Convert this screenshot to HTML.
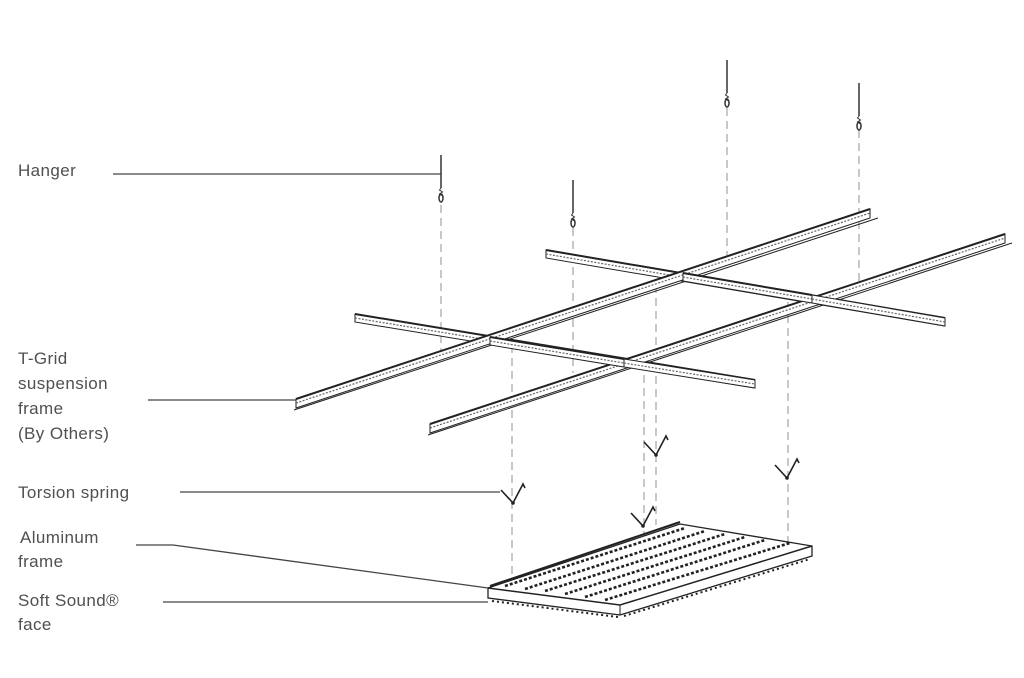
<!DOCTYPE html>
<html><head><meta charset="utf-8"><style>
html,body{margin:0;padding:0;background:#fff;}
svg{display:block}
text{font-family:"Liberation Sans",sans-serif;font-size:17px;fill:#505050;letter-spacing:0.4px}
</style></head><body>
<svg width="1024" height="678" viewBox="0 0 1024 678" xmlns="http://www.w3.org/2000/svg">
<defs>
<g id="hk">
<line x1="0" y1="-45" x2="0" y2="-12" stroke="#333" stroke-width="1.5"/>
<path d="M0,-12 l-1.5,2 l3,2 l-3,2 l3,2" stroke="#333" fill="none" stroke-width="1"/>
<ellipse cx="0" cy="-2" rx="2" ry="4" fill="none" stroke="#333" stroke-width="1.5"/>
</g>
<g id="sp">
<path d="M-12,-13 L0,0 L10,-19 L12,-15" stroke="#222" fill="none" stroke-width="1.6"/>
<circle cx="0" cy="0" r="1.8" fill="#222"/>
</g>
</defs>
<g stroke="#aaa" stroke-width="1.3" stroke-dasharray="8,5" fill="none">
<line x1="441" y1="205" x2="441" y2="355"/>
<line x1="573" y1="228" x2="573" y2="373"/>
<line x1="727" y1="108" x2="727" y2="255"/>
<line x1="859" y1="130" x2="859" y2="290"/>
<line x1="512" y1="345" x2="512" y2="585"/>
<line x1="656" y1="285" x2="656" y2="525"/>
<line x1="644" y1="362" x2="644" y2="608"/>
<line x1="788" y1="302" x2="788" y2="545"/>
</g>
<use href="#hk" x="441" y="200"/>
<use href="#hk" x="573" y="225"/>
<use href="#hk" x="727" y="105"/>
<use href="#hk" x="859" y="128"/>
<g stroke="#222" fill="#fff">
<polygon points="355,314 755,380 755,388 355,322" stroke-width="1"/>
<line x1="355" y1="314" x2="755" y2="380" stroke-width="2"/>
<line x1="355" y1="318" x2="755" y2="384" stroke-width="1.2" stroke="#666" stroke-dasharray="2,1.5"/>
<polygon points="546,250 945,318 945,326 546,258" stroke-width="1"/>
<line x1="546" y1="250" x2="945" y2="318" stroke-width="2"/>
<line x1="546" y1="254" x2="945" y2="322" stroke-width="1.2" stroke="#666" stroke-dasharray="2,1.5"/>
<polygon points="296,399 870,209 870,218 296,408" stroke-width="1"/>
<line x1="296" y1="399" x2="870" y2="209" stroke-width="2"/>
<line x1="296" y1="403" x2="870" y2="213" stroke-width="1.2" stroke="#666" stroke-dasharray="2,1.5"/>
<line x1="294" y1="410" x2="878" y2="218" stroke-width="1"/>
<polygon points="430,424 1005,234 1005,243 430,433" stroke-width="1"/>
<line x1="430" y1="424" x2="1005" y2="234" stroke-width="2"/>
<line x1="430" y1="428" x2="1005" y2="238" stroke-width="1.2" stroke="#666" stroke-dasharray="2,1.5"/>
<line x1="428" y1="435" x2="1012" y2="243" stroke-width="1"/>
<polygon points="490,337 624,359 624,367 490,345" stroke-width="1"/>
<line x1="490" y1="337" x2="624" y2="359" stroke-width="2"/>
<line x1="490" y1="341" x2="624" y2="363" stroke-width="1.2" stroke="#666" stroke-dasharray="2,1.5"/>
<polygon points="683,273 812,295 812,303 683,281" stroke-width="1"/>
<line x1="683" y1="273" x2="812" y2="295" stroke-width="2"/>
<line x1="683" y1="277" x2="812" y2="299" stroke-width="1.2" stroke="#666" stroke-dasharray="2,1.5"/>
<polygon points="624,359 755,380 755,388 624,367" stroke-width="1"/>
<line x1="624" y1="363" x2="755" y2="384" stroke-width="1.2" stroke="#666" stroke-dasharray="2,1.5"/>
<polygon points="812,295 945,318 945,326 812,303" stroke-width="1"/>
<line x1="812" y1="299" x2="945" y2="322" stroke-width="1.2" stroke="#666" stroke-dasharray="2,1.5"/>
</g>
<use href="#sp" x="513" y="503"/>
<use href="#sp" x="656" y="455"/>
<use href="#sp" x="787" y="478"/>
<use href="#sp" x="643" y="526"/>
<g stroke="#222" fill="#fff">
<polygon points="488,588 680,524 812,546 812,556 620,615 488,598" stroke-width="1.3"/>
<polyline points="488,588 620,605 812,546" fill="none" stroke-width="1.5"/>
<line x1="620" y1="605" x2="620" y2="615" stroke-width="1"/>
<line x1="490" y1="586" x2="680" y2="522" stroke-width="2"/>
<g stroke="#222" stroke-width="2.6" stroke-dasharray="3,2" fill="none">
<line x1="505" y1="586" x2="685" y2="528"/>
<line x1="525" y1="589" x2="705" y2="531"/>
<line x1="545" y1="591" x2="725" y2="534"/>
<line x1="565" y1="594" x2="745" y2="537"/>
<line x1="585" y1="597" x2="765" y2="540"/>
<line x1="605" y1="600" x2="790" y2="543"/>
</g>
<g stroke="#222" stroke-width="2" stroke-dasharray="2,3" fill="none">
<line x1="492" y1="601" x2="618" y2="617"/>
<line x1="624" y1="616" x2="810" y2="559"/>
</g>
</g>
<g stroke="#444" stroke-width="1.3" fill="none">
<line x1="113" y1="174" x2="441" y2="174"/>
<line x1="148" y1="400" x2="296" y2="400"/>
<line x1="180" y1="492" x2="500" y2="492"/>
<polyline points="136,545 173,545 488,588"/>
<line x1="163" y1="602" x2="488" y2="602"/>
</g>
<text x="18" y="176">Hanger</text>
<text x="18" y="364">T-Grid</text>
<text x="18" y="389">suspension</text>
<text x="18" y="414">frame</text>
<text x="18" y="439">(By Others)</text>
<text x="18" y="498">Torsion spring</text>
<text x="20" y="543">Aluminum</text>
<text x="18" y="567">frame</text>
<text x="18" y="606">Soft Sound®</text>
<text x="18" y="630">face</text>
</svg>
</body></html>
